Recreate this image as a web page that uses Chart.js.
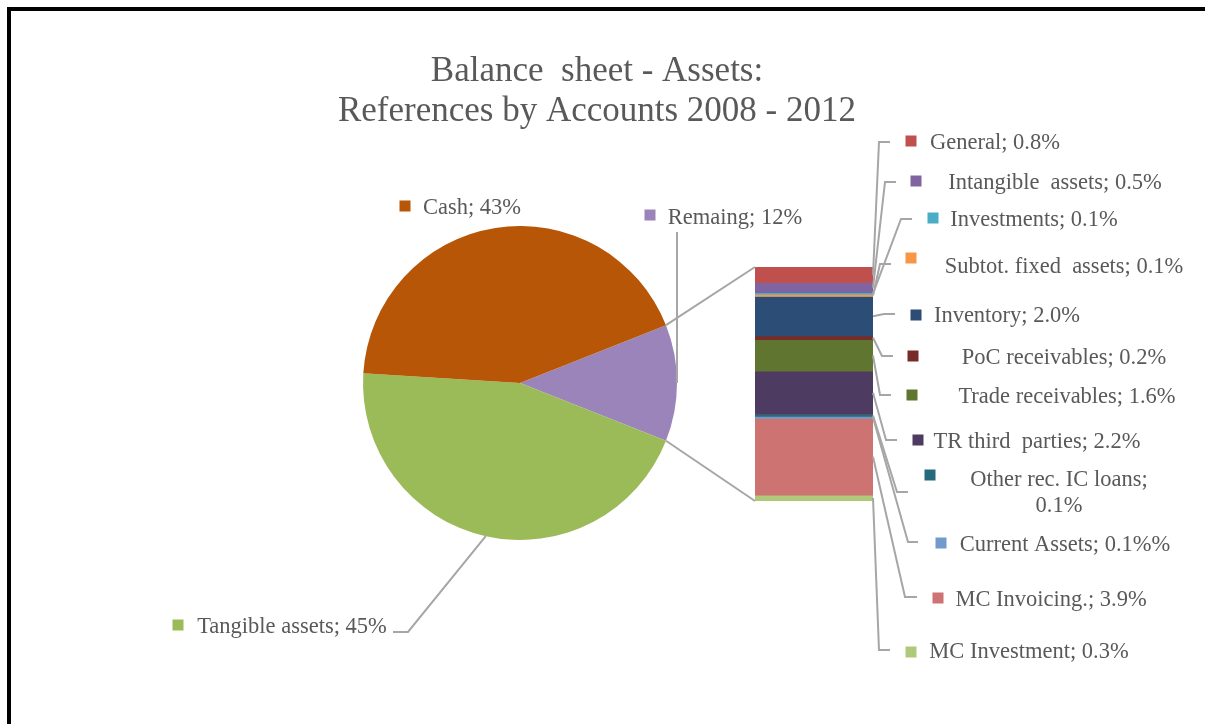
<!DOCTYPE html>
<html>
<head>
<meta charset="utf-8">
<title>Balance sheet - Assets</title>
<script src="https://cdn.jsdelivr.net/npm/chart.js@4.4.1/dist/chart.umd.min.js"></script>
<style>
  body { margin: 0; background: #fff; overflow: hidden; }
  #page { position: relative; width: 1205px; height: 724px; overflow: hidden; }
  #frame { position: absolute; left: 7px; top: 7px; width: 1400px; height: 1000px; border: 4px solid #000; }
  canvas { position: absolute; left: 0; top: 0; }
</style>
</head>
<body>
<div id="page">
  <div id="frame"></div>
  <canvas id="pieChart" width="1205" height="724"></canvas>
  <canvas id="barChart" width="1205" height="724"></canvas>
</div>
<script>
// Main groups shown in the pie
let pieNames = ["Remaing", "Tangible assets", "Cash"];
let pieValues = [12, 45, 43];
let pieColors = ["#9B84B9", "#9BBB59", "#B75606"];

// Split of the "Remaing" slice, top of the bar to bottom
let barNames = ["General", "Intangible  assets", "Investments", "Subtot. fixed  assets",
    "Inventory", "PoC receivables", "Trade receivables", "TR third  parties",
    "Other rec. IC loans", "Current Assets", "MC Invoicing.", "MC Investment"];
let barValues = [0.8, 0.5, 0.1, 0.1, 2.0, 0.2, 1.6, 2.2, 0.1, 0.1, 3.9, 0.3];
let barUnits = ["%", "%", "%", "%", "%", "%", "%", "%", "%", "%%", "%", "%"];
let barColors = ["#C0504D", "#8064A2", "#4BACC6", "#F79646", "#2C4D75", "#772C2A",
    "#5F7530", "#4D3B62", "#276A7C", "#729ACA", "#CD7371", "#AFC97A"];

let titleLines = ["Balance  sheet - Assets:", "References by Accounts 2008 - 2012"];

// where the data labels sit: legend key centre, text centre, leader elbow, leader tail end
let pieLabelPos = [
    { key: [650, 215], text: [735, 218], elbow: [677, 232], tail: 677 },
    { key: [178, 625], text: [292, 627], elbow: [408, 632], tail: 393 },
    { key: [405, 206], text: [472, 208], elbow: null }
];
let barLabelPos = [
    { key: [911, 141], text: [995, 143], elbow: [879, 142], tail: 890 },
    { key: [916, 181], text: [1055, 183], elbow: [885, 182], tail: 896 },
    { key: [933, 218], text: [1034, 220], elbow: [901, 219], tail: 912 },
    { key: [911, 258], text: [1064, 267], elbow: [880, 264], tail: 891 },
    { key: [916, 315], text: [1007, 316], elbow: [884, 314], tail: 895 },
    { key: [913, 356], text: [1064, 358], elbow: [882, 356], tail: 893 },
    { key: [912, 395], text: [1067, 397], elbow: [880, 395], tail: 891 },
    { key: [918, 440], text: [1037, 442], elbow: [886, 440], tail: 897 },
    { key: [930, 475], text: [1059, 480], elbow: [897, 492], tail: 908, wrap: true },
    { key: [941, 543], text: [1065, 545], elbow: [908, 542], tail: 918 },
    { key: [938, 598], text: [1051, 600], elbow: [905, 597], tail: 917 },
    { key: [911, 652], text: [1029, 652], elbow: [879, 650], tail: 890 }
];

let textColor = "#595959";
let leaderColor = "#A6A6A6";
let labelFont = "22.5px 'Liberation Serif', 'Times New Roman', serif";

let barTotal = barValues.reduce((a, b) => a + b, 0);

/**
 * Pie chart, turned so the "Remaing" slice faces the bar
 */
let pieChart = new Chart("pieChart", {
    type: "pie",
    data: {
        labels: pieNames,
        datasets: [{
            data: pieValues,
            backgroundColor: pieColors,
            borderWidth: 0
        }]
    },
    options: {
        responsive: false,
        animation: false,
        devicePixelRatio: 1,
        rotation: 90 - pieValues[0] / 100 * 180,
        layout: { padding: { left: 363, right: 528, top: 226, bottom: 184 } },
        plugins: { legend: { display: false }, tooltip: { enabled: false } }
    }
});

/**
 * Draw a polyline in leader grey
 */
function line(ctx, pts) {
    ctx.beginPath();
    ctx.moveTo(pts[0][0], pts[0][1]);
    for (let i = 1; i < pts.length; i++) {
        ctx.lineTo(pts[i][0], pts[i][1]);
    }
    ctx.stroke();
}

/**
 * Legend key square plus label text (optionally split over two lines)
 */
function drawLabel(ctx, pos, color, text) {
    ctx.fillStyle = color;
    ctx.fillRect(pos.key[0] - 5.5, pos.key[1] - 5.5, 11, 11);
    ctx.fillStyle = textColor;
    ctx.font = labelFont;
    ctx.textAlign = "center";
    ctx.textBaseline = "middle";
    if (pos.wrap) {
        let parts = text.split("; ");
        ctx.fillText(parts[0] + ";", pos.text[0], pos.text[1]);
        ctx.fillText(parts[1], pos.text[0], pos.text[1] + 26);
    } else {
        ctx.fillText(text, pos.text[0], pos.text[1]);
    }
}

/**
 * Connectors, leader lines, data labels and the title, drawn over both charts
 */
let overlay = {
    id: "overlay",
    afterDraw(chart) {
        let ctx = chart.ctx;
        let arcs = pieChart.getDatasetMeta(0).data;
        let first = chart.getDatasetMeta(0).data[0];
        let last = chart.getDatasetMeta(barValues.length - 1).data[0];
        let barLeft = first.x - first.width / 2;
        let barTop = Math.min(first.y, first.base);
        let barBottom = Math.max(last.y, last.base);

        ctx.save();
        ctx.strokeStyle = leaderColor;
        ctx.lineWidth = 2;

        // pie slice edges to the bar corners
        let rem = arcs[0];
        line(ctx, [[rem.x + rem.outerRadius * Math.cos(rem.startAngle), rem.y + rem.outerRadius * Math.sin(rem.startAngle)], [barLeft, barTop]]);
        line(ctx, [[rem.x + rem.outerRadius * Math.cos(rem.endAngle), rem.y + rem.outerRadius * Math.sin(rem.endAngle)], [barLeft, barBottom]]);

        // pie labels
        arcs.forEach((arc, i) => {
            let pos = pieLabelPos[i];
            if (pos.elbow) {
                let mid = (arc.startAngle + arc.endAngle) / 2;
                let from = [arc.x + arc.outerRadius * Math.cos(mid), arc.y + arc.outerRadius * Math.sin(mid)];
                line(ctx, [from, pos.elbow, [pos.tail, pos.elbow[1]]]);
            }
            drawLabel(ctx, pos, pieColors[i], pieNames[i] + "; " + pieValues[i] + "%");
        });

        // bar labels
        barValues.forEach((v, i) => {
            let bar = chart.getDatasetMeta(i).data[0];
            let pos = barLabelPos[i];
            let from = [bar.x + bar.width / 2, (bar.y + bar.base) / 2];
            line(ctx, [from, pos.elbow, [pos.tail, pos.elbow[1]]]);
            drawLabel(ctx, pos, barColors[i], barNames[i] + "; " + v.toFixed(1) + barUnits[i]);
        });

        // title
        ctx.fillStyle = textColor;
        ctx.font = "35px 'Liberation Serif', 'Times New Roman', serif";
        ctx.textAlign = "center";
        ctx.textBaseline = "alphabetic";
        ctx.fillText(titleLines[0], 597, 81);
        ctx.fillText(titleLines[1], 597, 121);
        ctx.restore();
    }
};

/**
 * Stacked bar with the breakdown of the small slice
 */
let barChart = new Chart("barChart", {
    type: "bar",
    data: {
        labels: [""],
        datasets: barValues.map((v, i) => ({
            label: barNames[i],
            data: [v],
            backgroundColor: barColors[i],
            borderWidth: 0,
            barPercentage: 1,
            categoryPercentage: 1
        }))
    },
    options: {
        responsive: false,
        animation: false,
        devicePixelRatio: 1,
        layout: { padding: { left: 755, right: 332, top: 267, bottom: 223 } },
        scales: {
            x: { display: false, stacked: true },
            y: { display: false, stacked: true, reverse: true, min: 0, max: barTotal }
        },
        plugins: { legend: { display: false }, tooltip: { enabled: false } }
    },
    plugins: [overlay]
});
</script>
</body>
</html>
